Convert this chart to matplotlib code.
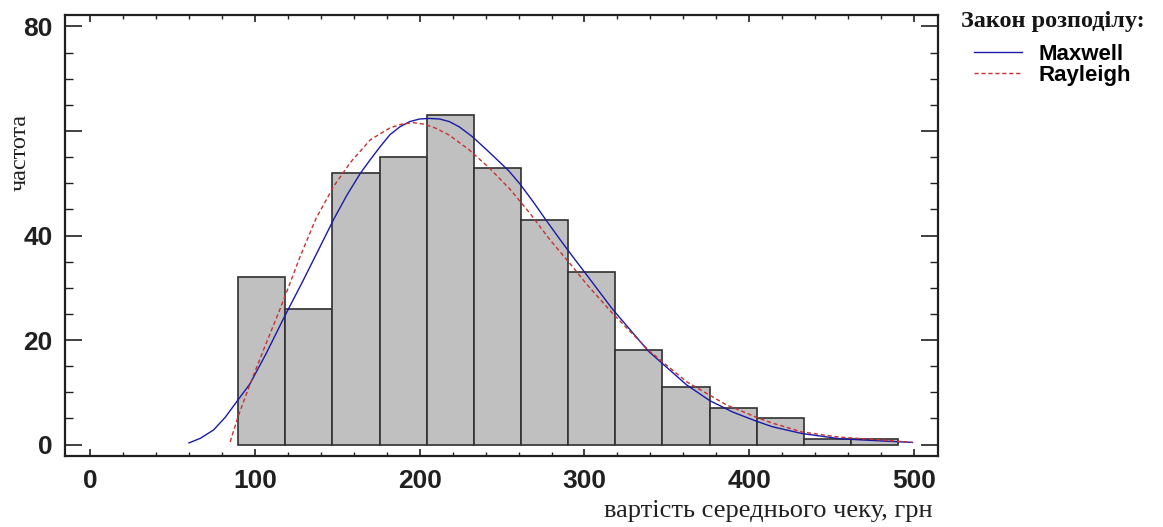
import matplotlib
matplotlib.use("Agg")
import matplotlib.pyplot as plt
from matplotlib.ticker import MultipleLocator
from matplotlib import font_manager

# гістограма: межі інтервалів та частоти
bin_edges = [89.9, 118.5, 147.1, 175.7, 204.3, 232.9, 261.5, 290.1,
             318.7, 347.3, 375.9, 404.5, 433.1, 461.7, 490.3]
counts = [32, 26, 52, 55, 63, 53, 43, 33, 18, 11, 7, 5, 1, 1]

# криві розподілів
maxwell_x = [60, 67, 75, 82, 89, 97, 107, 118, 129, 139, 148, 156, 164, 170, 176,
             182, 188, 194, 200, 206, 212, 218, 224, 232, 242, 254, 261, 269,
             277, 285, 293, 301, 317, 339, 362, 376, 390, 404, 414, 432, 455,
             479, 499]
maxwell_y = [0.3, 1.2, 2.8, 5.2, 8.2, 11.6, 17.5, 24.5, 31.2, 37.5, 43.2, 47.8,
             51.9, 54.5, 57.0, 59.3, 60.8, 61.8, 62.3, 62.4, 62.3, 61.8, 60.8,
             58.9, 56.0, 52.4, 49.8, 46.4, 42.8, 39.3, 35.9, 32.6, 25.9, 17.8,
             11.4, 8.4, 6.2, 4.5, 3.4, 2.1, 1.1, 0.7, 0.4]

rayleigh_x = [85, 90, 97, 106, 115, 121, 127, 137, 148, 158, 170, 182, 189, 196,
              203, 210, 218, 230, 242, 255, 267, 279, 291, 301, 317, 339, 362,
              386, 406, 414, 432, 455, 479, 499]
rayleigh_y = [0.5, 5.5, 11.5, 18.7, 25.7, 30.6, 35.6, 43.2, 49.5, 54.0, 58.3,
              60.6, 61.3, 61.6, 61.3, 60.5, 59.2, 56.4, 53.0, 48.8, 44.2, 39.2,
              34.7, 30.8, 25.1, 18.0, 12.0, 7.6, 5.0, 4.1, 2.4, 1.4, 0.9, 0.4]

y_ticks = [0, 20, 40, 60, 80]
y_tick_labels = ["0", "20", "40", "", "80"]
x_ticks = [0, 100, 200, 300, 400, 500]

installed = {f.name for f in font_manager.fontManager.ttflist}
tick_family = ("Liberation Sans Narrow" if "Liberation Sans Narrow" in installed
               else "Liberation Sans")

fig = plt.figure(figsize=(11.63, 5.27), dpi=100)
ax = fig.add_axes([65 / 1163, 1 - 456 / 527, 873 / 1163, 441 / 527])

widths = [b - a for a, b in zip(bin_edges[:-1], bin_edges[1:])]
ax.bar(bin_edges[:-1], counts, width=widths, align="edge",
       color="#c0c0c0", edgecolor="#303030", linewidth=1.2, zorder=1)

l1, = ax.plot(maxwell_x, maxwell_y, color="#1a1aa8", linewidth=1.0, zorder=3,
              label="Maxwell")
l2, = ax.plot(rayleigh_x, rayleigh_y, color="#c83030", linewidth=1.0, zorder=3,
              linestyle=(0, (3, 2)), label="Rayleigh")

ax.set_xlim(-15.2, 514.5)
ax.set_ylim(-2.2, 82.2)

ax.set_xticks(x_ticks)
ax.set_xticklabels([str(v) for v in x_ticks])
ax.xaxis.set_minor_locator(MultipleLocator(20))
ax.set_yticks(y_ticks)
ax.set_yticklabels(y_tick_labels)
ax.yaxis.set_minor_locator(MultipleLocator(5))

for lab in ax.get_xticklabels() + ax.get_yticklabels():
    lab.set_fontfamily(tick_family)
    lab.set_fontweight("bold")
    lab.set_fontsize(19)
    lab.set_color("#151515")

ax.tick_params(axis="x", which="major", direction="in", length=5, width=1.2,
               top=True, pad=9, colors="#202020")
ax.tick_params(axis="x", which="minor", direction="in", length=3, width=1,
               top=True, colors="#202020")
ax.tick_params(axis="y", which="major", direction="in", length=12, width=1.2,
               right=True, pad=9, colors="#202020")
ax.tick_params(axis="y", which="minor", direction="in", length=6, width=1,
               right=True, colors="#202020")
for sp in ax.spines.values():
    sp.set_linewidth(1.6)
    sp.set_color("#202020")

fig.text(20 / 1163, 1 - 152 / 527, "частота", rotation=90, ha="center",
         va="center", family="Liberation Serif", fontsize=17.5, color="#202020")
fig.text(768 / 1163, 1 - 511 / 527, "вартість середнього чеку, грн",
         ha="center", va="center", family="Liberation Serif", fontsize=19,
         color="#202020")

# легенда
fig.text(961 / 1163, 1 - 21 / 527, "Закон розподілу:", ha="left", va="center",
         family="Liberation Serif", fontweight="bold", fontsize=17.5,
         color="#151515")
leg = fig.legend(handles=[l1, l2], loc="upper left",
                 bbox_to_anchor=(958 / 1163, 1 - 28 / 527), frameon=False,
                 prop={"family": "Liberation Sans", "weight": "bold", "size": 16},
                 handlelength=2.2, handletextpad=0.7, labelspacing=0.0,
                 borderpad=0.2)

plt.savefig("out.png", dpi=100)
